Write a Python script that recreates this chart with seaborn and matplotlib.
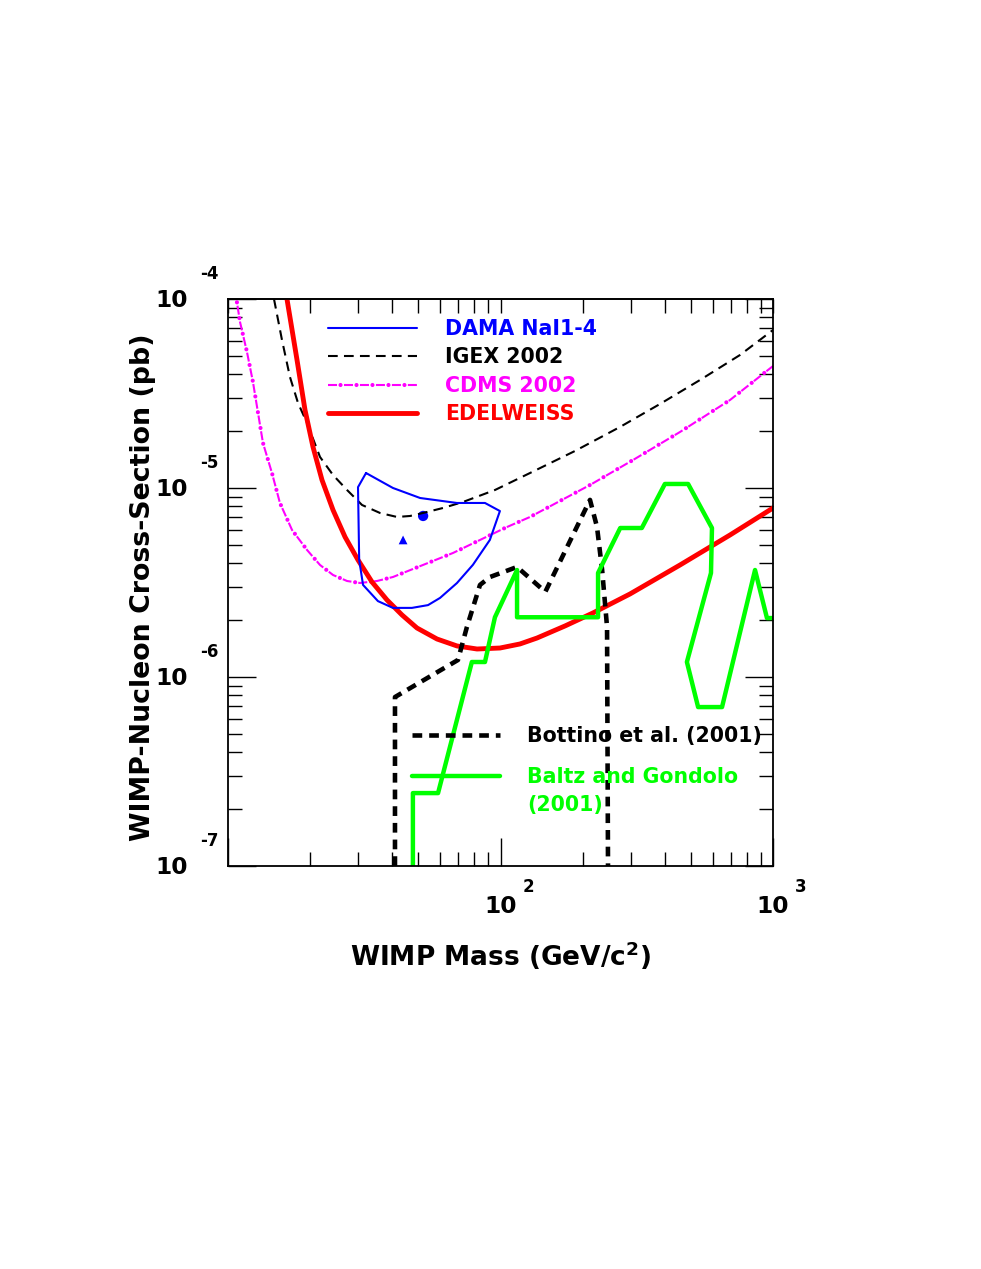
import matplotlib
matplotlib.use("Agg")
import matplotlib.pyplot as plt
import matplotlib.transforms as mtransforms
from matplotlib.lines import Line2D
from matplotlib.ticker import LogLocator, NullFormatter
import seaborn as sns

# WIMP mass (GeV/c^2) and cross-section (pb)
edelweiss_m = [16.46, 17.92, 19.17, 20.51, 22.13, 24.29, 26.89, 30.0, 33.77, 38.33, 43.52,
               49.38, 58.48, 69.25, 81.99, 99.58, 117.9, 136.1, 172.5, 218.5, 298.7, 455.9,
               695.4, 1000]
edelweiss_s = [1e-4, 4.756e-5, 2.587e-5, 1.648e-5, 1.102e-5, 7.648e-6, 5.504e-6, 4.159e-6,
               3.181e-6, 2.555e-6, 2.128e-6, 1.816e-6, 1.588e-6, 1.459e-6, 1.406e-6, 1.423e-6,
               1.495e-6, 1.607e-6, 1.862e-6, 2.182e-6, 2.749e-6, 3.914e-6, 5.64e-6, 7.837e-6]

igex_m = [14.75, 15.78, 16.88, 18.07, 19.5, 21.76, 24.29, 27.34, 31.03, 36.13, 41.72, 46.55,
          51.95, 61.52, 72.85, 95.46, 128.3, 187.7, 274.5, 384.9, 539.7, 756.7, 1000]
igex_s = [1e-4, 6.07e-5, 3.866e-5, 2.817e-5, 2.207e-5, 1.459e-5, 1.171e-5, 9.759e-6, 8.129e-6,
          7.373e-6, 7.023e-6, 7.109e-6, 7.373e-6, 7.837e-6, 8.432e-6, 9.759e-6, 1.2e-5,
          1.57e-5, 2.103e-5, 2.783e-5, 3.727e-5, 5.055e-5, 6.855e-5]

cdms_m = [10.61, 11.07, 11.74, 12.35, 12.89, 13.44, 14.5, 15.51, 17.18, 19.5, 21.76, 24.29,
          27.34, 30.51, 35.23, 40.32, 51.95, 66.95, 84.09, 105.7, 128.3, 165.3, 213.0, 306.4,
          455.9, 695.4, 1000]
cdms_s = [1.116e-4, 7.556e-5, 5.243e-5, 3.637e-5, 2.494e-5, 1.73e-5, 1.2e-5, 8.33e-6, 5.995e-6,
          4.699e-6, 3.914e-6, 3.464e-6, 3.22e-6, 3.142e-6, 3.22e-6, 3.381e-6, 3.914e-6,
          4.53e-6, 5.308e-6, 6.217e-6, 7.023e-6, 8.536e-6, 1.037e-5, 1.406e-5, 1.979e-5,
          2.921e-5, 4.418e-5]

dama_m = [32.1, 30.0, 30.3, 31.3, 35.5, 40.3, 47.3, 54.2, 60.0, 69.2, 79.2, 91.4, 99.5, 87.7,
          69.2, 50.7, 40.3, 32.1]
dama_s = [1.2e-5, 1.01e-5, 4.16e-6, 3.07e-6, 2.52e-6, 2.32e-6, 2.32e-6, 2.4e-6, 2.62e-6,
          3.14e-6, 3.92e-6, 5.31e-6, 7.55e-6, 8.33e-6, 8.33e-6, 8.85e-6, 1.0e-5, 1.2e-5]
dama_dot = (52.0, 7.11e-6)
dama_tri = (43.9, 5.31e-6)

bottino_m = [41.0, 41.0, 69.8, 75.3, 84.1, 91.5, 115.0, 146.0, 213.0, 226.0, 236.0, 246.0, 248.0]
bottino_s = [1e-7, 7.83e-7, 1.23e-6, 1.84e-6, 3.07e-6, 3.38e-6, 3.82e-6, 2.82e-6, 8.65e-6,
             6.22e-6, 3.68e-6, 1.84e-6, 1e-7]

baltz_m = [47.7, 47.7, 59.0, 78.5, 87.7, 95.4, 115.0, 115.0, 228.0, 228.0, 275.0, 330.0, 401.0,
           488.0, 597.0, 592.0, 483.0, 531.0, 650.0, 859.0, 950.0, 1000.0]
baltz_s = [1e-7, 2.43e-7, 2.43e-7, 1.2e-6, 1.2e-6, 2.07e-6, 3.68e-6, 2.07e-6, 2.07e-6, 3.55e-6,
           6.14e-6, 6.14e-6, 1.05e-5, 1.05e-5, 6.14e-6, 3.55e-6, 1.2e-6, 6.93e-7, 6.93e-7,
           3.68e-6, 2.05e-6, 2.05e-6]

x_exps = [2, 3]
y_exps = [-4, -5, -6, -7]

BLUE, MAGENTA, RED, GREEN = "#0000ff", "#ff00ff", "#ff0000", "#00ff00"

sns.set_style("ticks")
plt.rcParams["font.family"] = ["DejaVu Sans"]
plt.rcParams["font.weight"] = "bold"
plt.rcParams["text.color"] = "k"
plt.rcParams["lines.scale_dashes"] = False
plt.rcParams["mathtext.fontset"] = "custom"
plt.rcParams["mathtext.rm"] = "DejaVu Sans:bold"
plt.rcParams["mathtext.it"] = "DejaVu Sans:bold"
plt.rcParams["mathtext.bf"] = "DejaVu Sans:bold"
plt.rcParams["mathtext.default"] = "rm"

fig = plt.figure(figsize=(9.81, 12.69), dpi=100)
ax = fig.add_axes([0.2324, 0.3176, 0.5556, 0.4468])
ax.set_xscale("log")
ax.set_yscale("log")


def curve(x, y, **kw):
    sns.lineplot(x=x, y=y, sort=False, estimator=None, ax=ax, legend=False, **kw)


igex_ls = (0, (7, 4.5))
cdms_ls = (0, (6.5, 5.0))
cdms_dots = (2.5, (0.01, 11.5))
bottino_ls = (0, (7, 5))

curve(igex_m, igex_s, color="k", linewidth=1.5, linestyle=igex_ls)
curve(cdms_m, cdms_s, color=MAGENTA, linewidth=1.5, linestyle=cdms_ls)
curve(cdms_m, cdms_s, color=MAGENTA, linewidth=3.0, linestyle=cdms_dots, dash_capstyle="round")
curve(edelweiss_m, edelweiss_s, color=RED, linewidth=3.5)
curve(dama_m, dama_s, color=BLUE, linewidth=1.5)
sns.scatterplot(x=[dama_dot[0]], y=[dama_dot[1]], marker="o", s=55, color=BLUE,
                edgecolor="none", ax=ax, legend=False)
sns.scatterplot(x=[dama_tri[0]], y=[dama_tri[1]], marker="^", s=40, color=BLUE,
                edgecolor="none", ax=ax, legend=False)
curve(bottino_m, bottino_s, color="k", linewidth=3.3, linestyle=bottino_ls)
curve(baltz_m, baltz_s, color=GREEN, linewidth=3.2)

ax.set_xlim(10, 1000)
ax.set_ylim(1e-7, 1e-4)
ax.set_xlabel("")
ax.set_ylabel("")

for a in (ax.xaxis, ax.yaxis):
    a.set_major_locator(LogLocator(base=10))
    a.set_minor_locator(LogLocator(base=10, subs=range(2, 10)))
    a.set_major_formatter(NullFormatter())
    a.set_minor_formatter(NullFormatter())
ax.tick_params(which="both", direction="in", colors="k", width=1.0,
               top=False, right=True, bottom=True, left=True)
ax.tick_params(which="major", length=20)
ax.tick_params(which="minor", length=10)
for sp in ax.spines.values():
    sp.set_color("k")
    sp.set_linewidth(1.3)

top = ax.secondary_xaxis("top")
top.xaxis.set_major_locator(LogLocator(base=10))
top.xaxis.set_minor_locator(LogLocator(base=10, subs=range(2, 10)))
top.xaxis.set_major_formatter(NullFormatter())
top.xaxis.set_minor_formatter(NullFormatter())
top.tick_params(which="both", direction="in", length=10, width=1.0, colors="k")
top.spines["top"].set_linewidth(1.3)

# ROOT-style tick labels: "10" with a raised exponent
ytr = ax.get_yaxis_transform()
for e in y_exps:
    ax.text(-0.0734, 10.0 ** e, "10", fontsize=16.8, ha="right", va="baseline",
            transform=mtransforms.offset_copy(ytr, fig=fig, y=-6.1, units="points"))
    ax.text(-0.0514, 10.0 ** e, f"{e}", fontsize=12, ha="left", va="baseline",
            transform=mtransforms.offset_copy(ytr, fig=fig, y=14.5, units="points"))
xtr = ax.get_xaxis_transform()
for e in x_exps:
    ax.text(10.0 ** e, -0.0829, "10", fontsize=16.8, ha="center", va="baseline", transform=xtr)
    ax.text(10.0 ** e, -0.0459, f"{e}", fontsize=12, ha="left", va="baseline",
            transform=mtransforms.offset_copy(xtr, fig=fig, x=16.0, units="points"))

ax.text(0.5, -0.176, r"WIMP Mass (GeV/c$^{2}$)", fontsize=19, ha="center", va="baseline",
        transform=ax.transAxes)
ax.text(-0.143, 0.492, "WIMP-Nucleon Cross-Section (pb)", fontsize=19.3, rotation=90,
        rotation_mode="anchor", ha="center", va="baseline", transform=ax.transAxes)

h_dama = Line2D([], [], color=BLUE, lw=1.5)
h_igex = Line2D([], [], color="k", lw=1.5, linestyle=igex_ls)
h_cdms = (Line2D([], [], color=MAGENTA, lw=1.5, linestyle=cdms_ls),
          Line2D([], [], color=MAGENTA, lw=3.0, linestyle=cdms_dots, dash_capstyle="round"))
h_edel = Line2D([], [], color=RED, lw=3.5)
leg1 = ax.legend([h_dama, h_igex, h_cdms, h_edel],
                 ["DAMA NaI1-4", "IGEX 2002", "CDMS 2002", "EDELWEISS"],
                 loc="upper left", bbox_to_anchor=(0.1835, 0.9647), frameon=False,
                 fontsize=14.8, handlelength=4.32, handletextpad=1.36, labelspacing=0.41,
                 borderpad=0, borderaxespad=0, labelcolor=[BLUE, "k", MAGENTA, RED])
ax.add_artist(leg1)

h_bot = Line2D([], [], color="k", lw=3.3, linestyle=bottino_ls)
h_baltz = Line2D([], [], color=GREEN, lw=3.2)
ax.legend([h_bot, h_baltz], ["Bottino et al. (2001)", "Baltz and Gondolo"],
          loc="upper left", bbox_to_anchor=(0.3376, 0.2467), frameon=False,
          fontsize=14.8, handlelength=4.27, handletextpad=1.31, labelspacing=1.03,
          borderpad=0, borderaxespad=0, labelcolor=["k", GREEN])
ax.text(0.5486, 0.1075, "(2001)", color=GREEN, fontsize=14.8, ha="left", va="center",
        transform=ax.transAxes)

fig.savefig("out.png", dpi=100)
